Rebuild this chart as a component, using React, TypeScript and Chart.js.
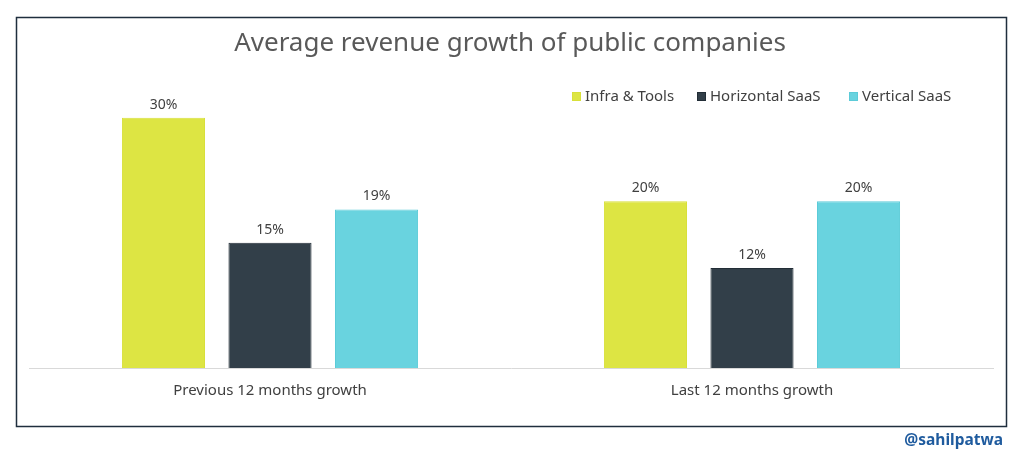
import React, { useEffect, useRef } from "react";
import { Chart, registerables } from "chart.js";

Chart.register(...registerables);

const categories = ["Previous 12 months growth", "Last 12 months growth"];
const seriesNames = ["Infra & Tools", "Horizontal SaaS", "Vertical SaaS"];
const infraTools = [30, 20];
const horizontalSaaS = [15, 12];
const verticalSaaS = [19, 20];
const seriesColors = ["#dde543", "#323f49", "#69d3df"];
const seriesBorders = ["#d8e03a", "#222d36", "#5ccbd8"];
const titleText = "Average revenue growth of public companies";
const watermark = "@sahilpatwa";

const FONT = "'Noto Sans', sans-serif";

const decorPlugin = {
  id: "decor",
  beforeDraw(chart: any) {
    const ctx = chart.ctx;
    ctx.save();
    ctx.fillStyle = "#ffffff";
    ctx.fillRect(0, 0, chart.width, chart.height);
    ctx.strokeStyle = "#1f2e3d";
    ctx.lineWidth = 1.5;
    ctx.strokeRect(16.5, 17.5, 990, 409);
    ctx.restore();
  },
  afterDraw(chart: any) {
    const ctx = chart.ctx;
    ctx.save();
    // title
    ctx.fillStyle = "#595959";
    ctx.font = `26px ${FONT}`;
    ctx.textAlign = "center";
    ctx.textBaseline = "middle";
    ctx.fillText(titleText, 510, 44);
    // legend
    ctx.font = `15px ${FONT}`;
    ctx.textAlign = "left";
    const legendX = [572, 697, 849];
    chart.data.datasets.forEach((ds: any, i: number) => {
      ctx.fillStyle = ds.backgroundColor;
      ctx.fillRect(legendX[i], 92, 9, 9);
      ctx.strokeStyle = ds.borderColor;
      ctx.lineWidth = 1;
      ctx.strokeRect(legendX[i] + 0.5, 92.5, 8, 8);
      ctx.fillStyle = "#404040";
      ctx.fillText(ds.label, legendX[i] + 13, 97);
    });
    // data labels
    ctx.font = `14px ${FONT}`;
    ctx.textAlign = "center";
    ctx.textBaseline = "bottom";
    ctx.fillStyle = "#404040";
    chart.data.datasets.forEach((ds: any, i: number) => {
      const meta = chart.getDatasetMeta(i);
      meta.data.forEach((bar: any, j: number) => {
        ctx.fillText(`${ds.data[j]}%`, bar.x, bar.y - 6);
      });
    });
    // watermark
    ctx.font = `bold 15.5px ${FONT}`;
    ctx.textAlign = "right";
    ctx.textBaseline = "middle";
    ctx.fillStyle = "#1f5b9e";
    ctx.fillText(watermark, 1003, 441);
    ctx.restore();
  },
};

export default function App() {
  const ref = useRef<HTMLCanvasElement>(null);
  useEffect(() => {
    if (!ref.current) return;
    const data = [infraTools, horizontalSaaS, verticalSaaS];
    const chart = new Chart(ref.current, {
      type: "bar",
      data: {
        labels: categories,
        datasets: seriesNames.map((name, i) => ({
          label: name,
          data: data[i],
          backgroundColor: seriesColors[i],
          borderColor: seriesBorders[i],
          borderWidth: 1,
          barPercentage: 0.78,
          categoryPercentage: 0.663,
        })),
      },
      options: {
        animation: false,
        responsive: false,
        devicePixelRatio: 1,
        layout: { padding: { top: 76, left: 29, right: 31, bottom: 55 } },
        plugins: {
          legend: { display: false },
          title: { display: false },
          tooltip: { enabled: false },
        },
        scales: {
          x: {
            grid: { display: false },
            border: { display: true, color: "#d9d9d9", width: 1 },
            ticks: {
              color: "#404040",
              font: { family: FONT, size: 15 },
              padding: 6,
            },
          },
          y: { display: false, min: 0, max: 35 },
        },
      },
      plugins: [decorPlugin],
    });
    return () => chart.destroy();
  }, []);
  return (
    <div style={{ position: "absolute", left: 0, top: 0, width: 1024, height: 461 }}>
      <canvas ref={ref} width={1024} height={461} />
    </div>
  );
}
